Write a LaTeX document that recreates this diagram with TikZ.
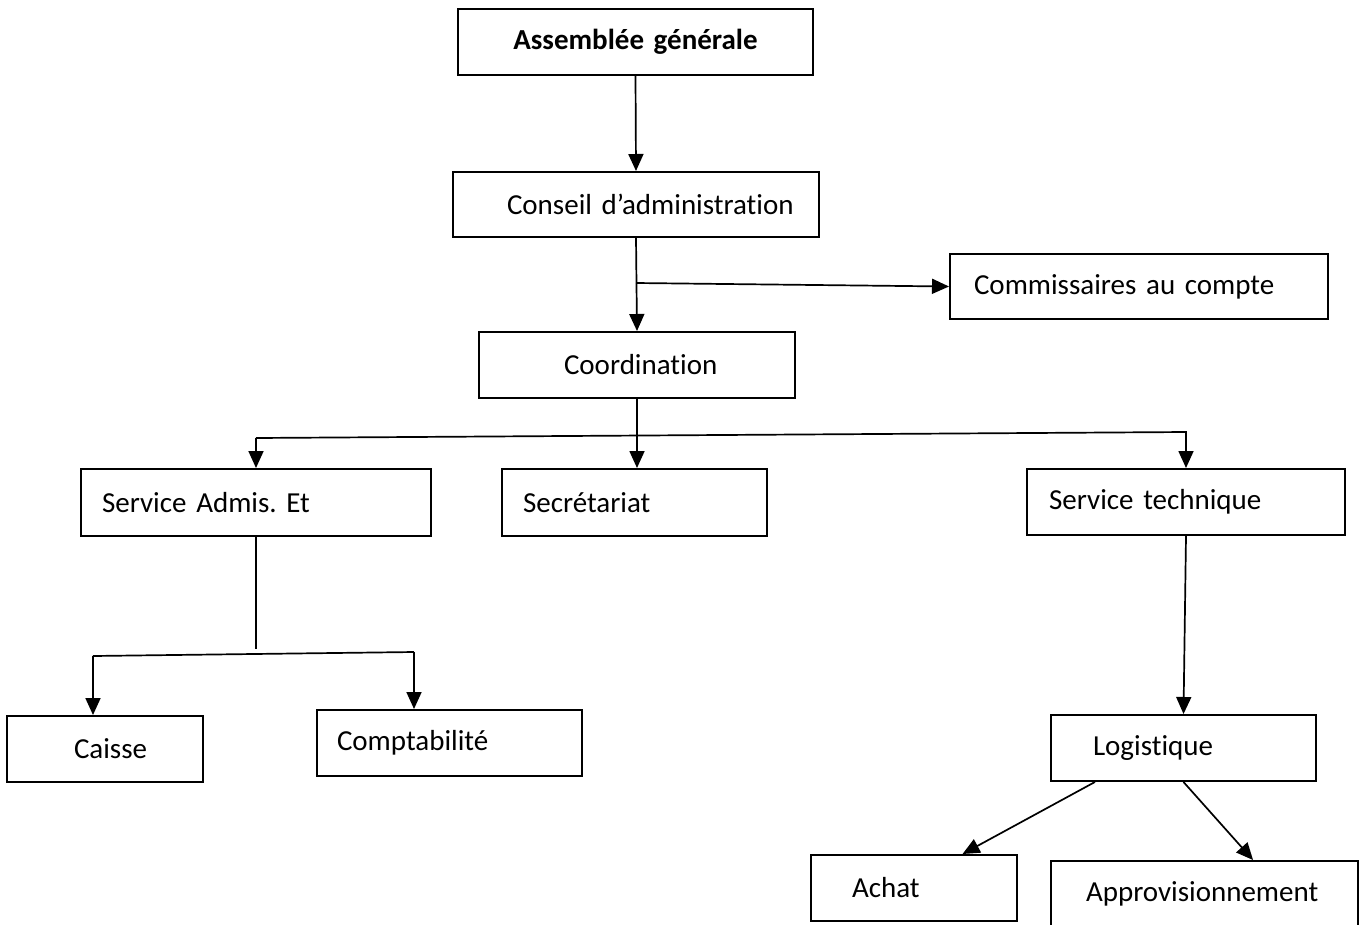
\documentclass[tikz,border=0pt]{standalone}
\usepackage{fontspec}
\setmainfont{Carlito}[Ligatures=NoCommon]
\frenchspacing
\usetikzlibrary{arrows.meta}
\tikzset{
  box/.style={draw, line width=2pt, inner xsep=0pt, inner ysep=0pt, align=left,
    font=\fontsize{29pt}{35pt}\selectfont},
  conn/.style={line width=1.7pt},
  arr/.style={conn, -{Triangle[length=17pt,width=15pt]}}
}
\begin{document}
\begin{tikzpicture}[x=1pt,y=-1pt]
\useasboundingbox (0,0) rectangle (1360,924);
% boxes
\node[box, align=center, text width=355pt, minimum height=66pt, font=\fontsize{29pt}{35pt}\selectfont\bfseries] (ag) at (635.5,42) {Assemblée générale};
\node[box, text width=366pt, minimum height=65pt] (cons) at (636,204.5) {\hspace*{54pt}Conseil d’administration};
\node[box, text width=378pt, minimum height=65pt] (comm) at (1139,286.5) {\hspace*{24pt}Commissaires au compte};
\node[box, text width=316pt, minimum height=66pt] (coord) at (637,365) {\hspace*{85pt}Coordination};
\node[box, text width=350pt, minimum height=67pt] (adm) at (256,502.5) {\hspace*{21pt}Service Admis. Et};
\node[box, text width=265pt, minimum height=67pt] (secr) at (634.5,502.5) {\hspace*{21pt}Secrétariat};
\node[box, text width=318pt, minimum height=66pt] (tech) at (1186,502) {\hspace*{22pt}Service technique};
\node[box, text width=196pt, minimum height=66pt] (caisse) at (105,749) {\hspace*{67pt}Caisse};
\node[box, text width=265pt, minimum height=66pt] (compta) at (449.5,743) {\hspace*{20pt}Comptabilité};
\node[box, text width=265pt, minimum height=66pt] (logi) at (1183.5,748) {\hspace*{42pt}Logistique};
\node[box, text width=206pt, minimum height=66pt] (achat) at (914,888) {\hspace*{41pt}Achat};
\node[box, text width=307pt, minimum height=66pt] (appro) at (1204.5,894) {\hspace*{35pt}Approvisionnement};
% junction points
\coordinate (j1) at (636,283);
\coordinate (b1) at (256,438);
\coordinate (b2) at (1186,432);
\coordinate (j2) at (256,649);
\coordinate (c1) at (93,656);
\coordinate (c2) at (414,652);
% connectors
\draw[arr] (ag.south) -- (cons.north);
\draw[arr] (cons.south) -- (coord.north);
\draw[arr] (j1) -- (comm.west);
\draw[arr] (coord.south) -- (coord.south |- secr.north);
\draw[arr] (b1) -- (adm.north);
\draw[arr] (b1) -- (b2) -- (tech.north);
\draw[conn] (adm.south) -- (j2);
\draw[arr] (c2) -- (c2 |- compta.north);
\draw[arr] (c1) -- (c1 |- caisse.north);
\draw[conn] (c1) -- (c2);
\draw[arr] (tech.south) -- (logi.north);
\draw[arr] (logi.201) -- (achat.35);
\draw[arr] (logi.south) -- (appro.35);
\end{tikzpicture}
\end{document}
